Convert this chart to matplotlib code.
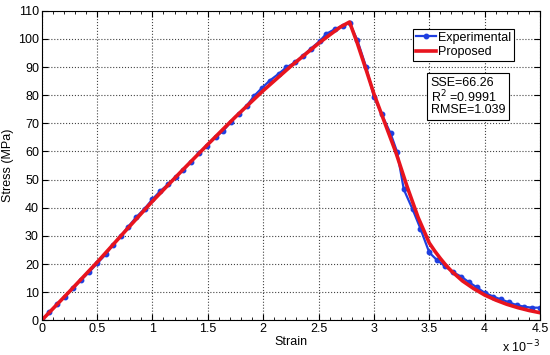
import numpy as np
import matplotlib.pyplot as plt
from matplotlib.ticker import MultipleLocator
plt.rcParams.update({'font.family': ['Liberation Sans', 'DejaVu Sans']})
plt.rcParams.update({'font.size': 9})

# experimental data (strain in 1e-3, stress in MPa)
exp_strain = [0, 0.07, 0.14, 0.21, 0.285, 0.355, 0.43, 0.50, 0.578, 0.64, 0.714, 0.78, 0.855, 0.93, 1.0,
              1.07, 1.14, 1.21, 1.28, 1.35, 1.42, 1.49, 1.57, 1.64, 1.71, 1.78, 1.85, 1.92, 1.99,
              2.06, 2.14, 2.21, 2.29, 2.36, 2.43, 2.51, 2.57, 2.65, 2.72, 2.78,
              2.85, 2.93, 3.0, 3.07, 3.15, 3.21, 3.27, 3.35, 3.42, 3.50,
              3.57, 3.64, 3.71, 3.79, 3.86, 3.93, 4.00, 4.08, 4.15, 4.22, 4.29, 4.36, 4.43, 4.50]
exp_stress = [0, 2.8, 5.7, 8.4, 11.4, 14.3, 17.2, 20.2, 23.4, 26.7, 29.9, 33.2, 36.7, 39.7, 43.0,
              45.9, 48.3, 50.9, 53.5, 56.3, 59.4, 62.0, 65.0, 67.4, 70.5, 73.3, 76.2, 79.8, 82.6,
              85.2, 87.6, 89.9, 91.7, 94.1, 96.5, 99.2, 101.8, 103.5, 104.7, 105.7,
              99.6, 90.0, 79.5, 73.2, 66.5, 59.8, 46.5, 39.4, 32.6, 24.1,
              21.4, 19.3, 17.2, 15.5, 13.5, 11.7, 9.8, 8.4, 7.4, 6.4, 5.4, 4.8, 4.5, 4.5]

# proposed model curve
mod_strain = [0, 0.25, 0.5, 0.75, 1.0, 1.25, 1.5, 1.75, 2.0, 2.25, 2.5, 2.6, 2.7, 2.78,
              2.85, 2.93, 3.0, 3.1, 3.2, 3.3, 3.4, 3.5, 3.55, 3.6, 3.65, 3.7, 3.8, 3.9,
              4.0, 4.1, 4.2, 4.3, 4.4, 4.5]
mod_stress = [0, 10.2, 20.6, 31.5, 42.3, 52.5, 62.5, 72.3, 81.6, 90.3, 98.4, 101.4, 104.3, 106.0,
              98.5, 89.0, 80.5, 70.0, 59.5, 47.5, 36.5, 27.5, 24.6, 22.0, 19.6, 17.5, 14.0, 11.3,
              9.0, 7.2, 5.7, 4.5, 3.5, 2.7]

xticks = [0, 0.5, 1, 1.5, 2, 2.5, 3, 3.5, 4, 4.5]
xticklabels = ['0', '0.5', '1', '1.5', '2', '2.5', '3', '3.5', '4', '4.5']
yticks = list(range(0, 111, 10))
stats = 'SSE=66.26\nR$^2$ =0.9991\nRMSE=1.039'

fig = plt.figure(figsize=(5.5, 3.55), dpi=100)
ax = fig.add_axes([0.0758, 0.0977, 0.906, 0.872])
ax.plot(exp_strain, exp_stress, color='#1f3fe0', lw=1.6, marker='o', ms=3.2, label='Experimental')
ax.plot(mod_strain, mod_stress, color='#e8141e', lw=2.6, label='Proposed')
ax.set_xlim(0, 4.5)
ax.set_ylim(0, 110)
ax.set_xticks(xticks)
ax.set_xticklabels(xticklabels)
ax.set_yticks(yticks)
ax.xaxis.set_minor_locator(MultipleLocator(0.1))
ax.tick_params(which='both', direction='in', top=True, right=True)
ax.tick_params(which='major', length=4, pad=2)
ax.tick_params(which='minor', length=2.5)
ax.grid(True, which='major', linestyle=':', color='#444444', lw=0.8)
ax.set_xlabel('Strain', labelpad=1)
ax.set_ylabel('Stress (MPa)', labelpad=3)
ax.text(1.0, -0.06, 'x 10$^{-3}$', transform=ax.transAxes, ha='right', va='top')
leg = ax.legend(loc='upper right', bbox_to_anchor=(0.948, 0.942), fancybox=False,
                edgecolor='black', framealpha=1, handlelength=1.6, borderpad=0.25,
                labelspacing=0.2, handletextpad=0.15, borderaxespad=0)
leg.get_frame().set_linewidth(0.8)
ax.text(0.781, 0.786, stats, transform=ax.transAxes, va='top', ha='left', linespacing=0.95,
        bbox=dict(boxstyle='square,pad=0.3', facecolor='white', edgecolor='black', lw=0.8))
plt.savefig('out.png', dpi=100)
